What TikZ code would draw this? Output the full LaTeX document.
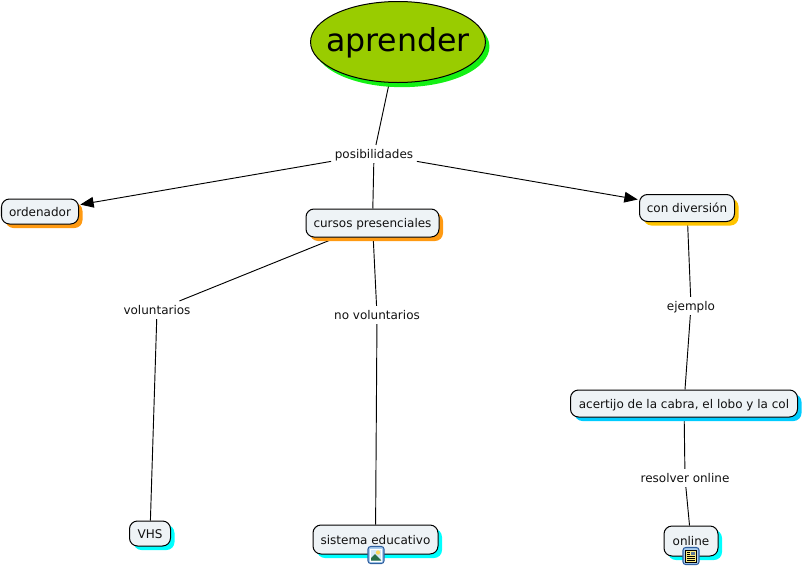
\documentclass[tikz,border=0pt]{standalone}
\usepackage{fontspec}
\setmainfont{DejaVu Sans}
\usetikzlibrary{shadows,arrows.meta,shapes.geometric,backgrounds}
\definecolor{boxfill}{HTML}{EEF3F6}
\definecolor{inkcol}{HTML}{111111}
\definecolor{shOrange}{HTML}{FF9A12}
\definecolor{shYellow}{HTML}{FFC400}
\definecolor{shCyan}{HTML}{00FFFF}
\definecolor{shSky}{HTML}{00CCFF}
\definecolor{shGreen}{HTML}{14F014}
\definecolor{mainGreen}{HTML}{99CC00}
\definecolor{iconblue}{HTML}{2F5F9F}
\definecolor{iconring}{HTML}{A9CDF0}
\definecolor{iconsky}{HTML}{D5E8F8}
\definecolor{iconsun}{HTML}{FAD75A}
\definecolor{iconhill}{HTML}{286E46}
\definecolor{iconpaper}{HTML}{FAEB82}
\definecolor{iconpic}{HTML}{5F7A96}
\tikzset{
  x=0.75pt,y=-0.75pt,
  concept/.style n args={3}{draw=black,line width=0.75pt,fill=boxfill,rounded corners=6pt,
    minimum width=#1*0.75pt,minimum height=#2*0.75pt,inner sep=0pt,text=inkcol,
    font=\fontsize{9pt}{11pt}\selectfont,text height=7.4pt,text depth=0.6pt,
    copy shadow={shadow xshift=3pt,shadow yshift=-3pt,fill=#3,draw=none}},
  linklabel/.style={inner xsep=2.6pt,inner ysep=2.7pt,text=inkcol,
    font=\fontsize{9pt}{11pt}\selectfont,text height=7.4pt,text depth=0.4pt},
  link/.style={draw=black,line width=0.7pt},
  arrowlink/.style={link,-{Triangle[length=10pt,width=8pt]},shorten >=1pt},
  iconframe/.style={draw=iconblue,line width=0.8pt,fill=iconring,rounded corners=2pt}
}
\begin{document}
\begin{tikzpicture}
\useasboundingbox (0,0) rectangle (804,568);
\node[ellipse,draw=black,line width=0.75pt,fill=mainGreen,
  minimum width=130.5pt,minimum height=60.75pt,inner xsep=-7.5pt,inner ysep=0pt,
  font=\fontsize{23.7pt}{28pt}\selectfont,text=black,text height=14pt,text depth=0.5pt,
  copy shadow={shadow xshift=3pt,shadow yshift=-3.5pt,fill=shGreen,draw=none}] (aprender) at (398,42) {aprender};
\node[concept={77}{25}{shOrange}] (ordenador) at (40,211.5) {ordenador};
\node[concept={133}{28}{shOrange}] (cursos) at (372.5,223) {cursos presenciales};
\node[concept={95}{27}{shYellow}] (diversion) at (687,208) {con diversión};
\node[concept={227}{27}{shSky}] (acertijo) at (684,403.5) {acertijo de la cabra, el lobo y la col};
\node[concept={41}{25}{shCyan}] (vhs) at (150,533.5) {VHS};
\node[concept={125}{29}{shCyan}] (sistema) at (375.5,539.5) {sistema educativo};
\node[concept={54}{30}{shCyan}] (online) at (691,541) {online};
\node[linklabel] (posib) at (374,154) {posibilidades};
\node[linklabel] (volunt) at (157,310) {voluntarios};
\node[linklabel] (novolunt) at (377,315) {no voluntarios};
\node[linklabel] (ejemplo) at (691,306) {ejemplo};
\node[linklabel] (resolver) at (685,478) {resolver online};
\begin{scope}[on background layer]
\draw[link] (aprender) -- (posib);
\draw[arrowlink] (posib) -- (ordenador);
\draw[link] (posib) -- (cursos);
\draw[arrowlink] (posib) -- (diversion);
\draw[link] (cursos) -- (volunt);
\draw[link] (volunt) -- (vhs);
\draw[link] (cursos) -- (novolunt);
\draw[link] (novolunt) -- (sistema);
\draw[link] (diversion) -- (ejemplo);
\draw[link] (ejemplo) -- (acertijo);
\draw[link] (acertijo) -- (resolver);
\draw[link] (resolver) -- (online);
\end{scope}
% image icon
\begin{scope}[shift={(376,555)}]
\draw[iconframe] (-8,-8.5) rectangle (8,8.5);
\fill[white] (-6,-6.5) rectangle (6,6.5);
\fill[iconsky] (-5,-5.5) rectangle (5,5.5);
\fill[iconsun] (2,-2.5) circle[radius=1.6pt];
\fill[iconhill] (-5,5.5) -- (-5,3) -- (-1,-1) -- (5,5) -- (5,5.5) -- cycle;
\end{scope}
% document icon
\begin{scope}[shift={(691,556)}]
\draw[iconframe] (-8,-8.5) rectangle (8,8.5);
\fill[iconpaper] (-5.5,-6) rectangle (5.5,6);
\draw[black,line width=0.4pt] (-5.5,-6) rectangle (5.5,6);
\fill[iconpic] (0,-4.5) rectangle (4,-0.8);
\draw[black,line width=0.5pt] (-4,-3.8) -- (-1,-3.8) (-4,-2) -- (-1,-2) (-4,0) -- (4,0) (-4,2) -- (4,2) (-4,4) -- (4,4);
\end{scope}
\end{tikzpicture}
\end{document}
